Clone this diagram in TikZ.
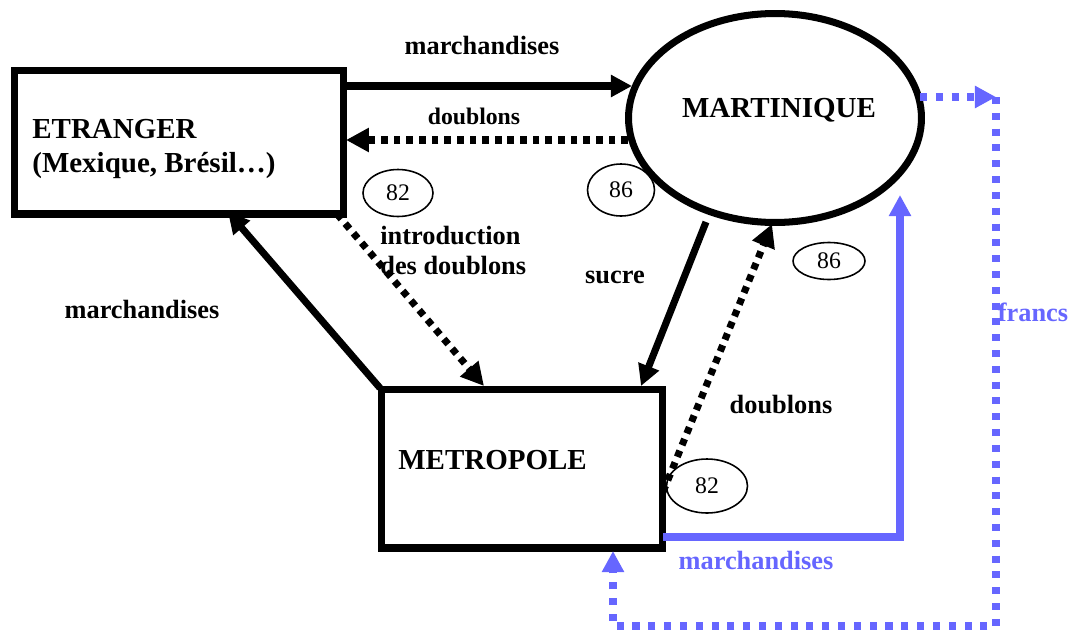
\documentclass[tikz,border=0pt]{standalone}
\usepackage{fontspec}
\setmainfont{Liberation Serif}
\usetikzlibrary{arrows.meta,shapes.geometric}
\definecolor{bleu}{RGB}{102,102,255}
\tikzset{
  box/.style={draw, line width=4pt, rectangle, inner sep=0pt},
  oval/.style={draw, line width=4pt, ellipse, inner sep=0pt},
  tag/.style={draw, line width=0.9pt, ellipse, inner sep=0pt, font=\fontsize{13.5}{15}\selectfont},
  title/.style={font=\fontsize{16.5}{19}\selectfont\bfseries, inner sep=0pt},
  lbl/.style={font=\fontsize{15}{17}\selectfont\bfseries, inner sep=0pt},
  flow/.style={line width=4pt, -{Triangle[length=12pt,width=12pt]}},
  dotflow/.style={line width=4pt, dash pattern=on 3.8pt off 3.4pt, -{Triangle[length=13pt,width=13pt]}},
  bflow/.style={bleu, line width=4pt, -{Triangle[length=12pt,width=12pt]}},
  bdotflow/.style={bleu, line width=4pt, dash pattern=on 4pt off 5pt},
}
\begin{document}
\begin{tikzpicture}[x=0.02cm, y=-0.02cm]
\useasboundingbox (0,0) rectangle (1072,629);
% main nodes
\node[box, minimum width=6.6cm, minimum height=2.88cm] (etr) at (179,142) {};
\node[box, minimum width=5.64cm, minimum height=3.18cm] (met) at (522,468.5) {};
\node[oval, minimum width=5.86cm, minimum height=4.18cm] (mar) at (775,118) {};
% titles
\node[title, anchor=west, align=left] (etrtxt) at (32,149) {ETRANGER\\(Mexique, Brésil…)};
\node[title, anchor=west] (mettxt) at (398,460) {METROPOLE};
\node[title] (martxt) at (779,110) {MARTINIQUE};
% small tags
\node[tag, minimum width=1.40cm, minimum height=0.94cm] (t82a) at (398,193) {82};
\node[tag, minimum width=1.34cm, minimum height=1.04cm] (t86a) at (621,190) {86};
\node[tag, minimum width=1.44cm, minimum height=0.74cm] (t86b) at (829,261) {86};
\node[tag, minimum width=1.62cm, minimum height=1.08cm] (t82b) at (707,486) {82};
% coordinates
\coordinate (a1s) at (344,86);
\coordinate (a1e) at (632,86);
\coordinate (a2s) at (628,140);
\coordinate (a2e) at (346,140);
\coordinate (a3s) at (380,388);
\coordinate (a3e) at (228,212);
\coordinate (a4s) at (337,214);
\coordinate (a4e) at (484,386);
\coordinate (a5s) at (706,222);
\coordinate (a5e) at (641,386);
\coordinate (a6s) at (663,492);
\coordinate (a6e) at (772,224);
\coordinate (b1s) at (663,537);
\coordinate (b1c) at (900,537);
\coordinate (b1e) at (900,195);
\coordinate (b2s) at (920,97);
\coordinate (b2c) at (996,97);
\coordinate (b2d) at (996,626);
\coordinate (b2f) at (613,626);
\coordinate (b2e) at (613,551);
% black flows
\draw[flow] (a1s) -- (a1e);
\draw[dotflow] (a2s) -- (a2e);
\draw[flow] (a3s) -- (a3e);
\draw[dotflow] (a4s) -- (a4e);
\draw[flow] (a5s) -- (a5e);
\draw[dotflow] (a6s) -- (a6e);
% blue flows
\draw[bflow] (b1s) -- (b1c) -- (b1e);
\draw[bdotflow, -{Triangle[length=12pt,width=12pt]}] (b2s) -- (b2c);
\draw[bdotflow, -{Triangle[length=12pt,width=12pt]}] (b2c) -- (b2d) -- (b2f) -- (b2e);
% labels
\node[lbl] (l1) at (482,45) {marchandises};
\node[font=\fontsize{13.5}{15}\selectfont\bfseries, inner sep=0pt] (l2) at (474,116) {doublons};
\node[lbl] (l3) at (142,309) {marchandises};
\node[lbl, anchor=north west, align=left] (l4) at (380,226) {introduction\\des doublons};
\node[lbl] (l5) at (615,277) {sucre};
\node[lbl] (l6) at (781,405) {doublons};
\node[lbl, text=bleu] (l7) at (756,560) {marchandises};
\node[lbl, text=bleu] (l8) at (1033,312) {francs};
\end{tikzpicture}
\end{document}
